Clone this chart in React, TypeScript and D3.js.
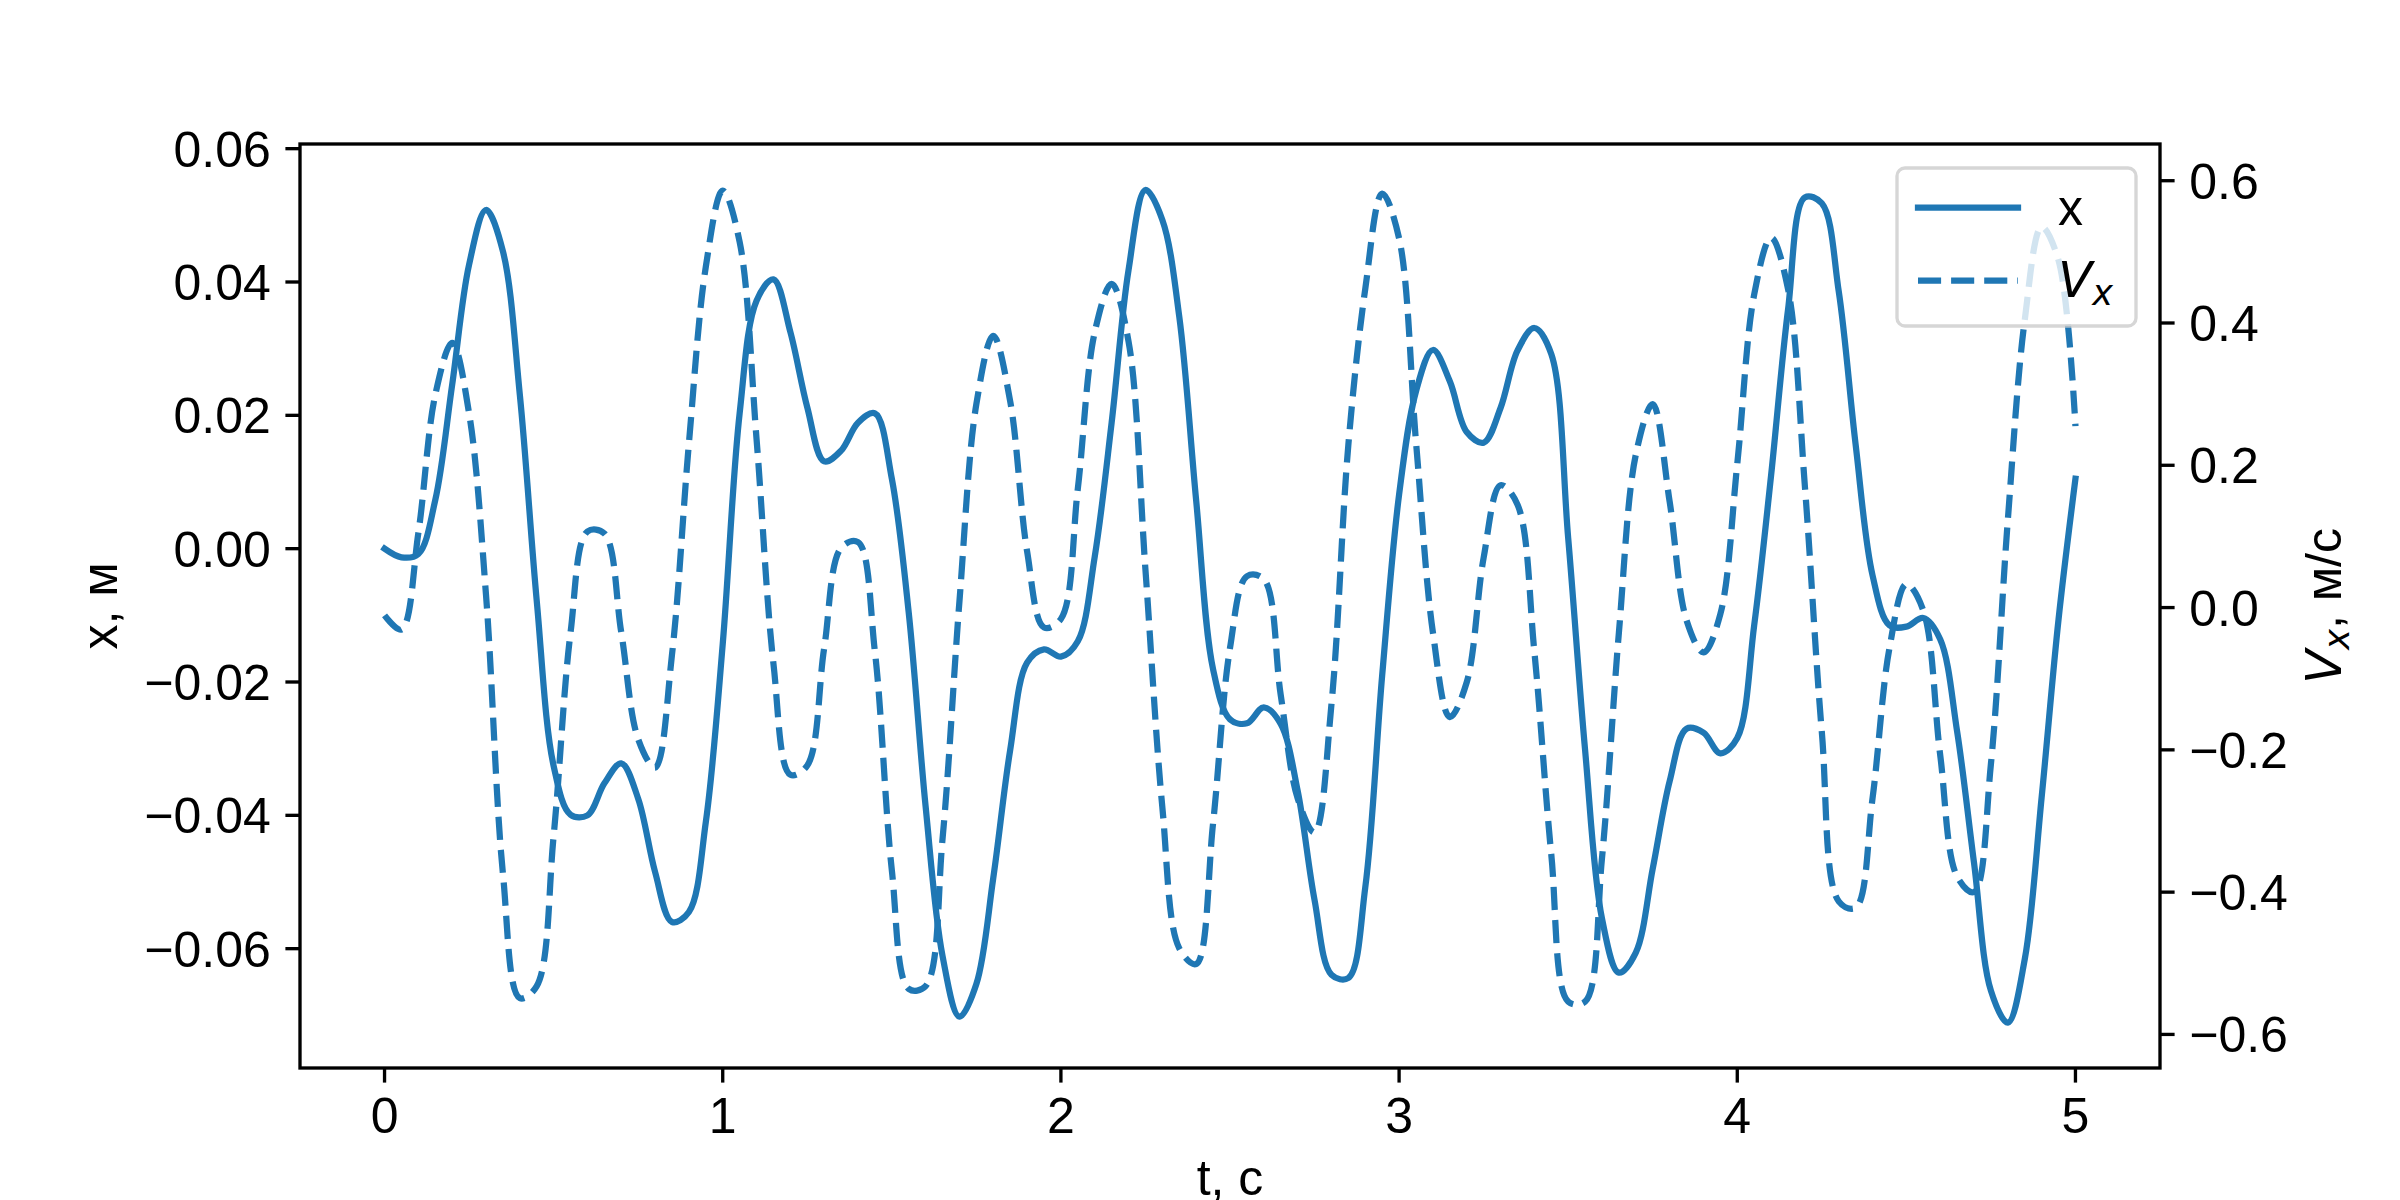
import React, { useEffect, useMemo } from 'react';
import * as d3 from 'd3';

// time samples, s
const tValues = [
  0.0, 0.05, 0.1, 0.15, 0.2, 0.25, 0.3, 0.35, 0.4, 0.45,
  0.5, 0.55, 0.6, 0.65, 0.7, 0.75, 0.8, 0.85, 0.9, 0.95,
  1.0, 1.05, 1.1, 1.15, 1.2, 1.25, 1.3, 1.35, 1.4, 1.45,
  1.5, 1.55, 1.6, 1.65, 1.7, 1.75, 1.8, 1.85, 1.9, 1.95,
  2.0, 2.05, 2.1, 2.15, 2.2, 2.25, 2.3, 2.35, 2.4, 2.45,
  2.5, 2.55, 2.6, 2.65, 2.7, 2.75, 2.8, 2.85, 2.9, 2.95,
  3.0, 3.05, 3.1, 3.15, 3.2, 3.25, 3.3, 3.35, 3.4, 3.45,
  3.5, 3.55, 3.6, 3.65, 3.7, 3.75, 3.8, 3.85, 3.9, 3.95,
  4.0, 4.05, 4.1, 4.15, 4.2, 4.25, 4.3, 4.35, 4.4, 4.45,
  4.5, 4.55, 4.6, 4.65, 4.7, 4.75, 4.8, 4.85, 4.9, 4.95,
  5.0,
];

// displacement x, m (left axis)
const xValues = [
  0.0, -0.0013, -0.0008, 0.0073, 0.0246, 0.0426, 0.0508, 0.0446, 0.0231, -0.0078,
  -0.0326, -0.0399, -0.04, -0.0352, -0.0322, -0.0375, -0.0485, -0.056, -0.0545, -0.041,
  -0.0143, 0.0203, 0.0372, 0.0404, 0.0325, 0.0212, 0.0131, 0.0147, 0.0189, 0.0203,
  0.0105, -0.0096, -0.0387, -0.0611, -0.0702, -0.0653, -0.0494, -0.0302, -0.0171, -0.0151,
  -0.0162, -0.0139, -0.0012, 0.0189, 0.0418, 0.0538, 0.0493, 0.0348, 0.0072, -0.0181,
  -0.0256, -0.0262, -0.0238, -0.0263, -0.0363, -0.0527, -0.0639, -0.0644, -0.0508, -0.019,
  0.0081, 0.0236, 0.0298, 0.0251, 0.0175, 0.0159, 0.0211, 0.0297, 0.0331, 0.0292,
  0.0016, -0.0302, -0.0555, -0.0636, -0.0606, -0.048, -0.0349, -0.027, -0.0276, -0.0307,
  -0.0284, -0.0115, 0.011, 0.0358, 0.0527, 0.0518, 0.0386, 0.0156, -0.004, -0.0115,
  -0.0117, -0.0104, -0.0136, -0.0274, -0.0471, -0.0663, -0.0711, -0.0616, -0.0373, -0.0106,
  0.0105,
];

// velocity Vx, m/s (right axis)
const vValues = [
  -0.011, -0.031, 0.105, 0.299, 0.372, 0.273, 0.018, -0.374, -0.549, -0.532,
  -0.321, -0.035, 0.107, 0.104, -0.035, -0.185, -0.225, -0.066, 0.231, 0.479,
  0.586, 0.514, 0.237, -0.079, -0.235, -0.222, -0.057, 0.084, 0.092, -0.062,
  -0.369, -0.536, -0.532, -0.325, 0.009, 0.286, 0.382, 0.29, 0.079, -0.028,
  -0.016, 0.167, 0.387, 0.455, 0.374, 0.053, -0.281, -0.479, -0.501, -0.303,
  -0.057, 0.044, 0.04, -0.123, -0.268, -0.316, -0.136, 0.229, 0.448, 0.582,
  0.519, 0.233, -0.035, -0.154, -0.105, 0.07, 0.172, 0.145, -0.062, -0.347,
  -0.554, -0.554, -0.352, -0.035, 0.215, 0.286, 0.149, -0.018, -0.063, -0.009,
  0.202, 0.44, 0.52, 0.448, 0.17, -0.175, -0.413, -0.422, -0.268, -0.057,
  0.033, -0.004, -0.207, -0.378, -0.4, -0.22, 0.123, 0.404, 0.535, 0.488,
  0.255,
];

const tTicks = [0, 1, 2, 3, 4, 5];
const xTicks = [-0.06, -0.04, -0.02, 0.0, 0.02, 0.04, 0.06];
const vTicks = [-0.6, -0.4, -0.2, 0.0, 0.2, 0.4, 0.6];

const W = 2400;
const H = 1200;
const plot = { left: 300, right: 2160, top: 144, bottom: 1068 };
const BLUE = '#1f77b4';
const FONT = '"Liberation Sans", Arial, Helvetica, sans-serif';
const MATH = '"DejaVu Sans", sans-serif';
const FS = 50;
const TICK = 14.6;
const PAD = 14.6;

export default function App() {
  useEffect(() => {
    document.body.style.margin = '0';
  }, []);

  const tScale = useMemo(
    () => d3.scaleLinear().domain([-0.25, 5.25]).range([plot.left, plot.right]),
    []
  );
  const xScale = useMemo(
    () => d3.scaleLinear().domain([-0.0779, 0.0607]).range([plot.bottom, plot.top]),
    []
  );
  const vScale = useMemo(
    () => d3.scaleLinear().domain([-0.6472, 0.6516]).range([plot.bottom, plot.top]),
    []
  );

  const xPath = useMemo(() => {
    const gen = d3
      .line<number>()
      .x((_, i) => tScale(tValues[i]))
      .y((d) => xScale(d))
      .curve(d3.curveCatmullRom.alpha(0.5));
    return gen(xValues) || '';
  }, [tScale, xScale]);

  const vPath = useMemo(() => {
    const gen = d3
      .line<number>()
      .x((_, i) => tScale(tValues[i]))
      .y((d) => vScale(d))
      .curve(d3.curveCatmullRom.alpha(0.5));
    return gen(vValues) || '';
  }, [tScale, vScale]);

  const fmtX = d3.format('.2f');
  const fmtV = d3.format('.1f');
  const fmtT = d3.format('d');

  return (
    <svg
      width={W}
      height={H}
      viewBox={`0 0 ${W} ${H}`}
      style={{ position: 'absolute', left: 0, top: 0, background: '#fff' }}
    >
      <defs>
        <clipPath id="plot-clip">
          <rect
            x={plot.left}
            y={plot.top}
            width={plot.right - plot.left}
            height={plot.bottom - plot.top}
          />
        </clipPath>
      </defs>
      <rect x={0} y={0} width={W} height={H} fill="#fff" />

      {/* data lines */}
      <g clipPath="url(#plot-clip)">
        <path
          d={xPath}
          fill="none"
          stroke={BLUE}
          strokeWidth={6.25}
          strokeLinejoin="round"
          strokeLinecap="square"
        />
        <path
          d={vPath}
          fill="none"
          stroke={BLUE}
          strokeWidth={6.25}
          strokeLinejoin="round"
          strokeDasharray="23.1,10"
        />
      </g>

      {/* spines */}
      <rect
        x={plot.left}
        y={plot.top}
        width={plot.right - plot.left}
        height={plot.bottom - plot.top}
        fill="none"
        stroke="#000"
        strokeWidth={3.33}
      />

      {/* bottom axis */}
      {tTicks.map((t) => (
        <g key={`t${t}`}>
          <line
            x1={tScale(t)}
            x2={tScale(t)}
            y1={plot.bottom}
            y2={plot.bottom + TICK}
            stroke="#000"
            strokeWidth={3.33}
          />
          <text
            x={tScale(t)}
            y={plot.bottom + TICK + PAD + 36}
            textAnchor="middle"
            fontFamily={FONT}
            fontSize={FS}
          >
            {fmtT(t)}
          </text>
        </g>
      ))}
      <text x={(plot.left + plot.right) / 2} y={1195} textAnchor="middle" fontFamily={FONT} fontSize={FS}>
        t, с
      </text>

      {/* left axis */}
      {xTicks.map((v) => (
        <g key={`x${v}`}>
          <line
            x1={plot.left - TICK}
            x2={plot.left}
            y1={xScale(v)}
            y2={xScale(v)}
            stroke="#000"
            strokeWidth={3.33}
          />
          <text
            x={plot.left - TICK - PAD}
            y={xScale(v) + 18}
            textAnchor="end"
            fontFamily={FONT}
            fontSize={FS}
          >
            {fmtX(v)}
          </text>
        </g>
      ))}
      <text
        transform={`translate(117, ${(plot.top + plot.bottom) / 2}) rotate(-90)`}
        textAnchor="middle"
        fontFamily={FONT}
        fontSize={FS}
      >
        x, м
      </text>

      {/* right axis */}
      {vTicks.map((v) => (
        <g key={`v${v}`}>
          <line
            x1={plot.right}
            x2={plot.right + TICK}
            y1={vScale(v)}
            y2={vScale(v)}
            stroke="#000"
            strokeWidth={3.33}
          />
          <text
            x={plot.right + TICK + PAD}
            y={vScale(v) + 18}
            textAnchor="start"
            fontFamily={FONT}
            fontSize={FS}
          >
            {fmtV(v)}
          </text>
        </g>
      ))}
      <text
        transform={`translate(2341, ${(plot.top + plot.bottom) / 2}) rotate(-90)`}
        textAnchor="middle"
        fontFamily={FONT}
        fontSize={FS}
      >
        <tspan fontFamily={MATH} fontStyle="italic">V</tspan>
        <tspan fontFamily={MATH} fontStyle="italic" fontSize={35} dy={8}>x</tspan>
        <tspan dy={-8}>, м/с</tspan>
      </text>

      {/* legend */}
      <g>
        <rect
          x={1897}
          y={168}
          width={239}
          height={158}
          rx={8}
          ry={8}
          fill="#fff"
          fillOpacity={0.8}
          stroke="#cccccc"
          strokeOpacity={0.8}
          strokeWidth={3.33}
        />
        <line x1={1918} x2={2018} y1={207.7} y2={207.7} stroke={BLUE} strokeWidth={6.25} strokeLinecap="square" />
        <text x={2058} y={225} fontFamily={FONT} fontSize={FS}>
          x
        </text>
        <line x1={1918} x2={2018} y1={280.7} y2={280.7} stroke={BLUE} strokeWidth={6.25} strokeDasharray="23.1,10" />
        <text x={2058} y={297} fontFamily={MATH} fontStyle="italic" fontSize={FS}>
          V
          <tspan fontSize={35} dy={8}>x</tspan>
        </text>
      </g>
    </svg>
  );
}
